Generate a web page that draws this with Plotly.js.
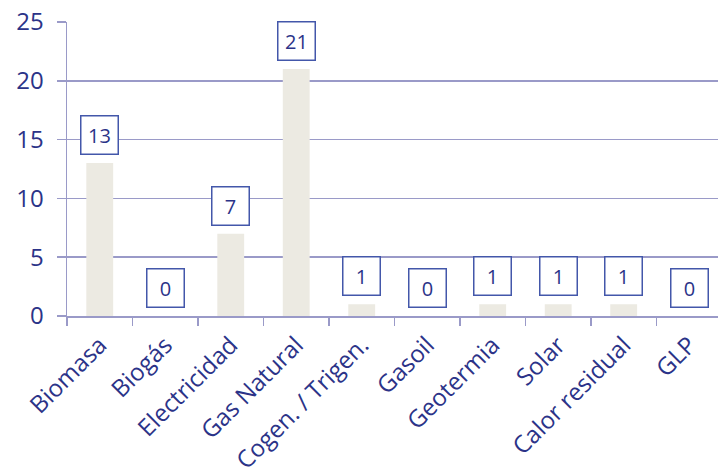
<!DOCTYPE html>
<html>
<head>
<meta charset="utf-8">
<script src="https://cdn.plot.ly/plotly-3.0.1.min.js"></script>
<style>
  html, body { margin: 0; padding: 0; background: #fff; }
  #chart { width: 718px; height: 474px; }
</style>
</head>
<body>
<div id="chart"></div>
<script>
// Number of installations by energy source
const categories = ["Biomasa", "Biogás", "Electricidad", "Gas Natural", "Cogen. / Trigen.",
                    "Gasoil", "Geotermia", "Solar", "Calor residual", "GLP"];
const counts = [13, 0, 7, 21, 1, 0, 1, 1, 1, 0];
const yTicks = [0, 5, 10, 15, 20, 25];

const textColor = "#2B3388";
const gridColor = "#9A9AC8";
const fontFamily = "Open Sans, Liberation Sans, sans-serif";

const bars = {
  type: "bar",
  x: categories,
  y: counts,
  width: 0.41,
  marker: { color: "#ECEAE2" },
  hoverinfo: "x+y"
};

// Boxed value labels sitting above each bar
const labels = categories.map((c, i) => ({
  x: c,
  y: counts[i],
  xref: "x",
  yref: "y",
  text: String(counts[i]),
  showarrow: false,
  yanchor: "bottom",
  yshift: 8,
  font: { family: fontFamily, size: 20, color: textColor },
  bgcolor: "#FFFFFF",
  bordercolor: "#4357AA",
  borderwidth: 1.5,
  borderpad: 4,
  width: 28,
  height: 29
}));

const layout = {
  width: 718,
  height: 474,
  margin: { l: 67, r: 0, t: 22, b: 158 },
  paper_bgcolor: "#FFFFFF",
  plot_bgcolor: "#FFFFFF",
  showlegend: false,
  xaxis: {
    type: "category",
    range: [-0.5, 9.44],
    showgrid: false,
    showline: true,
    linecolor: gridColor,
    linewidth: 1.5,
    ticks: "outside",
    ticklen: 8,
    tickcolor: gridColor,
    tickwidth: 1.5,
    tickson: "boundaries",
    tickangle: -45,
    ticklabelstandoff: 4,
    tickfont: { family: fontFamily, size: 24, color: textColor },
    zeroline: false
  },
  yaxis: {
    range: [0, 25],
    tickvals: yTicks,
    ticktext: yTicks.map(String),
    showgrid: true,
    gridcolor: gridColor,
    gridwidth: 1.5,
    showline: true,
    linecolor: gridColor,
    linewidth: 1.5,
    ticks: "outside",
    ticklen: 9,
    tickcolor: gridColor,
    tickwidth: 1.5,
    ticklabelstandoff: 8,
    tickfont: { family: fontFamily, size: 24, color: textColor },
    zeroline: false
  },
  annotations: labels
};

Plotly.newPlot("chart", [bars], layout, { displayModeBar: false, staticPlot: true });
</script>
</body>
</html>
